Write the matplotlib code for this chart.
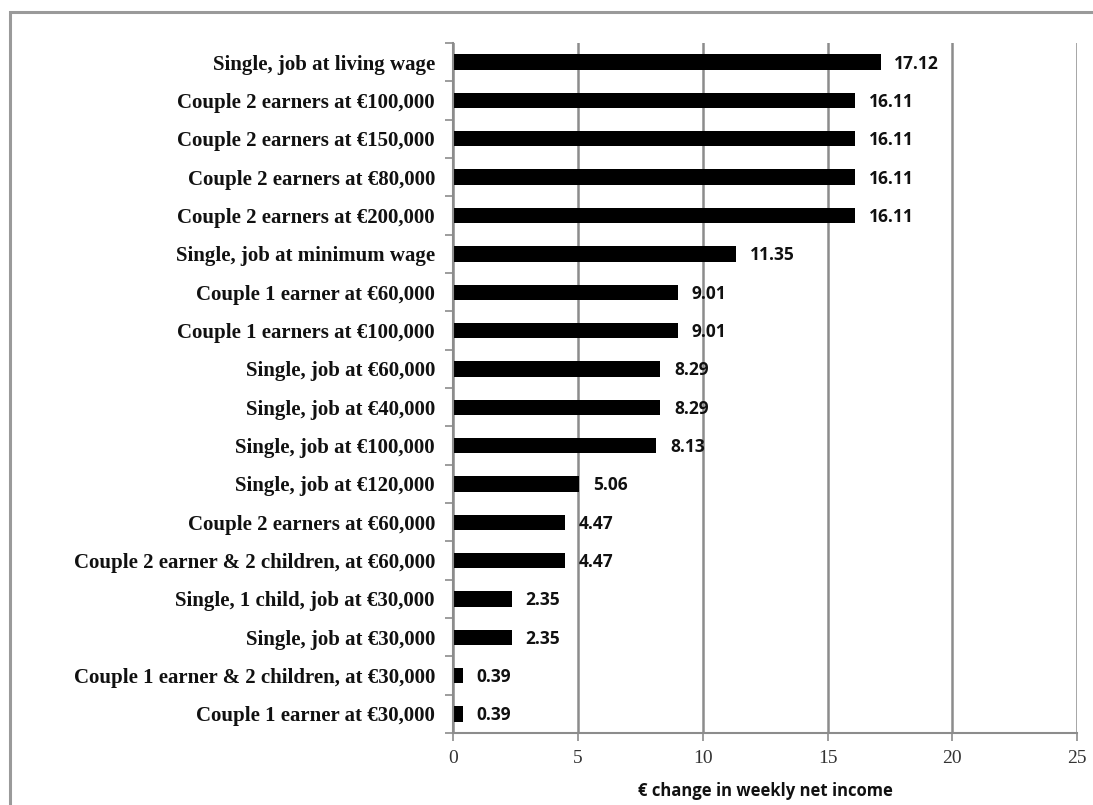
import matplotlib
matplotlib.use("Agg")
import matplotlib.pyplot as plt
from matplotlib.patches import Rectangle

# household types, top to bottom
categories = [
    "Single, job at living wage",
    "Couple 2 earners at €100,000",
    "Couple 2 earners at €150,000",
    "Couple 2 earners at €80,000",
    "Couple 2 earners at €200,000",
    "Single, job at minimum wage",
    "Couple 1 earner at €60,000",
    "Couple 1 earners at €100,000",
    "Single, job at €60,000",
    "Single, job at €40,000",
    "Single, job at €100,000",
    "Single, job at €120,000",
    "Couple 2 earners at €60,000",
    "Couple 2 earner & 2 children, at €60,000",
    "Single, 1 child, job at €30,000",
    "Single, job at €30,000",
    "Couple 1 earner & 2 children, at €30,000",
    "Couple 1 earner at €30,000",
]
weekly_change = [17.12, 16.11, 16.11, 16.11, 16.11, 11.35, 9.01, 9.01, 8.29,
                 8.29, 8.13, 5.06, 4.47, 4.47, 2.35, 2.35, 0.39, 0.39]
x_ticks = [0, 5, 10, 15, 20, 25]

grid_col = "#8c8c8c"

fig = plt.figure(figsize=(10.93, 8.05), dpi=100)
ax = fig.add_axes([0.4145, 0.0894, 0.5711, 0.8572])

# outer chart frame (runs off the right and bottom edges)
fig.patches.append(Rectangle((10 / 1093, -0.05), 1.1, 1 - 12 / 805 + 0.05,
                             transform=fig.transFigure, fill=False,
                             edgecolor="#9a9a9a", linewidth=2.2))

ypos = list(range(len(categories)))[::-1]
ax.barh(ypos, weekly_change, height=0.4, color="black", zorder=2)

for y, v in zip(ypos, weekly_change):
    ax.annotate(f"{v:.2f}", (v, y), xytext=(10, -1), textcoords="offset points",
                va="center", ha="left", fontsize=12.5, fontweight="bold",
                family="Open Sans", color="#111111", zorder=4)

ax.set_xlim(0, 25)
ax.set_ylim(-0.5, len(categories) - 0.5)
ax.set_xticks(x_ticks)
ax.set_xticklabels([str(t) for t in x_ticks], family="Liberation Serif",
                   fontsize=14, color="#333333")
ax.xaxis.grid(True, color=grid_col, linewidth=1.8, zorder=0)
ax.set_axisbelow(True)

# category labels, with small ticks between rows on the y axis
ax.set_yticks(ypos)
ax.set_yticklabels(categories, family="Liberation Serif", fontweight="bold",
                   fontsize=15, color="#111111")
ax.tick_params(axis="y", length=0, pad=13)
ax.set_yticks([i - 0.5 for i in range(len(categories) + 1)], minor=True)
ax.tick_params(axis="y", which="minor", length=6, width=1.2, color=grid_col)
ax.tick_params(axis="x", length=6, width=1.2, color=grid_col, pad=6)

for s in ["top", "right"]:
    ax.spines[s].set_visible(False)
for s in ["left", "bottom"]:
    ax.spines[s].set_color(grid_col)
    ax.spines[s].set_linewidth(1.5)

ax.set_xlabel("€ change in weekly net income", family="Open Sans",
              fontweight="bold", fontsize=12, labelpad=11, color="#111111")

fig.savefig("out.png", dpi=100)
